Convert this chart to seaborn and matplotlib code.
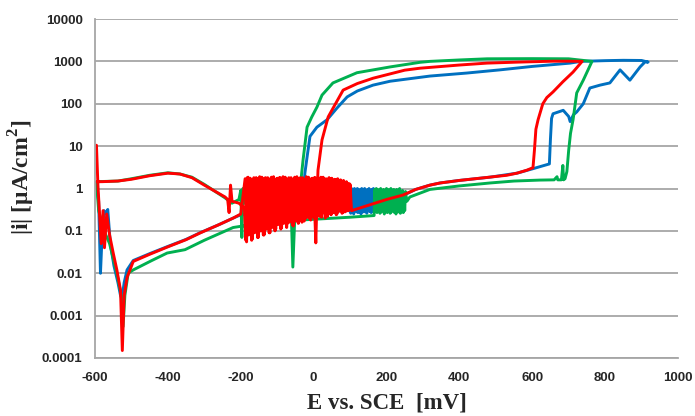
import matplotlib
matplotlib.use("Agg")
import matplotlib.pyplot as plt
from matplotlib.ticker import FixedLocator, FixedFormatter
import pandas as pd
import seaborn as sns

# ---------------- data ----------------
x_ticks = [-600, -400, -200, 0, 200, 400, 600, 800, 1000]
x_tick_labels = ["-600", "-400", "-200", "0", "200", "400", "600", "800", "1000"]
y_ticks = [0.0001, 0.001, 0.01, 0.1, 1, 10, 100, 1000, 10000]
y_tick_labels = ["0.0001", "0.001", "0.01", "0.1", "1", "10", "100", "1000", "10000"]

# ---- Blue sample ----
blue_fwd_E = [-596, -590, -585, -580, -575, -570, -565, -558, -548, -537, -530, -526, -520,
              -512, -495, -450, -400, -350, -312, -260, -221, -200, -150, -50, 50, 98]
blue_fwd_i = [1.4, 0.5, 0.01, 0.1, 0.3, 0.25, 0.32, 0.05, 0.015, 0.006, 0.003, 0.0025, 0.006,
              0.012, 0.02, 0.029, 0.043, 0.063, 0.09, 0.14, 0.2, 0.24, 0.26, 0.28, 0.3, 0.3]
blue_noise_E = [100, 102, 104, 106, 108, 110, 112, 114, 116, 118, 120, 122, 124, 126, 128, 130, 132,
                134, 136, 138, 140, 142, 144, 146, 148, 150, 152, 154, 156, 158, 160, 162, 164, 166, 168]
blue_noise_top = [0.9, 1.0, 0.95, 1.0, 0.85, 1.0, 0.95, 0.9, 1.0, 0.95, 1.0, 0.9, 0.95, 1.0, 0.85,
                  0.95, 1.0, 0.9]
blue_noise_bottom = [0.26, 0.3, 0.25, 0.32, 0.28, 0.27, 0.3, 0.25, 0.33, 0.28, 0.3, 0.26, 0.31, 0.29,
                     0.27, 0.32, 0.35]
blue_pass_E = [172, 200, 245, 280, 319, 347, 400, 484, 558, 600, 647, 650, 653, 657, 685, 700, 704,
               713, 722, 740, 758, 786, 813, 841, 868, 896, 910, 918]
blue_pass_i = [0.4, 0.52, 0.68, 0.95, 1.2, 1.35, 1.55, 1.85, 2.3, 2.9, 3.8, 15, 45, 58, 70, 50, 38,
               55, 64, 100, 235, 275, 310, 630, 360, 740, 980, 960]
blue_rev_E = [900, 850, 800, 733, 704, 600, 511, 420, 319, 210, 163, 120, 92, 64, 37, 9, -10, -18,
              -24, -28, -60, -150]
blue_rev_i = [1050, 1060, 1040, 1000, 910, 760, 630, 530, 450, 340, 275, 200, 145, 79, 42, 28, 17,
              5.5, 2.3, 0.8, 0.6, 0.5]

# ---- Green sample ----
green_fwd_E = [-596, -590, -575, -560, -540, -528, -523, -518, -509, -495, -444, -402, -353,
               -300, -221, -150, -37, 100, 166]
green_fwd_i = [1.45, 0.3, 0.1, 0.05, 0.01, 0.003, 0.00055, 0.003, 0.01, 0.012, 0.02, 0.03, 0.036,
               0.06, 0.12, 0.15, 0.18, 0.21, 0.23]
green_noise_E = [168, 170, 172, 174, 176, 178, 180, 182, 184, 186, 188, 190, 192, 194, 196, 198, 200,
                 202, 204, 206, 208, 210, 212, 214, 216, 218, 220, 222, 224, 226, 228, 230, 232, 234,
                 236, 238, 240, 242, 244, 246, 248, 250, 252]
green_noise_top = [0.95, 1.0, 0.9, 0.95, 1.0, 0.85, 0.95, 0.9, 1.0, 0.95, 0.85, 1.0, 0.9, 0.95, 0.8,
                   0.95, 0.9, 1.0, 0.85, 0.9, 0.8, 0.85]
green_noise_bottom = [0.3, 0.27, 0.3, 0.26, 0.28, 0.3, 0.25, 0.29, 0.27, 0.3, 0.26, 0.28, 0.3, 0.27,
                      0.25, 0.3, 0.28, 0.26, 0.3, 0.27, 0.3]
green_pass_E = [256, 264, 319, 400, 484, 550, 621, 660, 668, 670, 680, 684, 686, 690, 695, 700, 705,
                712, 718, 722, 740, 764]
green_pass_i = [0.5, 0.63, 0.95, 1.15, 1.35, 1.5, 1.58, 1.6, 1.9, 1.6, 1.6, 3.5, 1.6, 1.7, 2.5, 8, 20,
                42, 100, 180, 360, 1000]
green_rev_E = [700, 600, 476, 400, 319, 292, 210, 119, 53, 23, 9, -5, -18, -29, -35, -42, -50, -57,
               -62, -120, -190, -194, -197, -200, -205, -224, -243, -300, -334, -367, -400, -450,
               -500, -537, -594]
green_rev_i = [1150, 1160, 1150, 1080, 1000, 950, 740, 540, 310, 160, 83, 49, 28, 4.7, 1.5, 0.8, 0.5,
               0.014, 0.4, 0.5, 0.45, 1.0, 0.07, 0.9, 0.55, 0.45, 0.6, 1.25, 1.85, 2.2, 2.35, 2.05,
               1.7, 1.5, 1.45]

# ---- Red sample ----
red_fwd_E = [-596, -592, -588, -583, -578, -574, -568, -560, -550, -540, -530, -525, -520, -512,
             -495, -450, -400, -350, -312, -260, -221, -200]
red_fwd_i = [10.5, 1.2, 0.3, 0.05, 0.3, 0.04, 0.25, 0.08, 0.03, 0.012, 0.004, 0.00015, 0.003, 0.008,
             0.019, 0.028, 0.042, 0.062, 0.089, 0.14, 0.2, 0.25]
red_noise_E = [-188, -184, -180, -176, -172, -168, -164, -160, -156, -152, -148, -144, -140, -136,
               -132, -128, -124, -120, -116, -112, -108, -104, -100, -96, -92, -88, -84, -80, -76,
               -72, -68, -64, -60, -56, -52, -48, -44, -40, -36, -32, -28, -24, -20, -16, -12, -8,
               -4, 0, 4, 8, 12, 16, 20, 24, 28, 32, 36, 40, 44, 48, 52, 56, 60, 64, 68, 72, 76, 80,
               84, 88, 92, 96, 100]
red_noise_top = [1.7, 1.85, 1.6, 1.8, 1.75, 1.9, 1.65, 1.8, 1.7, 1.85, 1.6, 1.75, 1.8, 1.9, 1.7, 1.8,
                 1.65, 1.85, 1.75, 1.8, 1.6, 1.9, 1.7, 1.75, 1.8, 1.65, 1.85, 1.7, 1.6, 1.75, 1.5,
                 1.6, 1.4, 1.5, 1.3, 1.35, 1.25]
red_noise_bottom = [0.055, 0.09, 0.065, 0.12, 0.07, 0.1, 0.08, 0.13, 0.09, 0.14, 0.11, 0.16, 0.12,
                    0.18, 0.15, 0.2, 0.13, 0.17, 0.22, 0.16, 0.19, 0.24, 0.18, 0.21, 0.25, 0.22, 0.27,
                    0.2, 0.26, 0.24, 0.28, 0.25, 0.3, 0.27, 0.29, 0.3]
# second pass through the noisy band (reverse scan), offset between the first-pass points
red_noise2_E = [98, 94, 90, 86, 82, 78, 74, 70, 66, 62, 58, 54, 50, 46, 42, 38, 34, 30, 26, 22, 18,
                14, 10, 6, 2, -2, -6, -10, -14, -18, -22, -26, -30, -34, -38, -42, -46, -50, -54,
                -58, -62, -66, -70, -74, -78, -82, -86, -90, -94, -98, -102, -106, -110, -114, -118,
                -122, -126, -130, -134, -138, -142, -146, -150, -154, -158, -162, -166, -170, -174,
                -178, -182, -186]
red_noise2_top = [1.3, 1.45, 1.55, 1.6, 1.7, 1.65, 1.75, 1.8, 1.7, 1.85, 1.6, 1.75, 1.8, 1.7, 1.85,
                  1.65, 1.8, 1.75, 1.9, 1.7, 1.8, 1.6, 1.85, 1.75, 1.8, 1.7, 1.9, 1.65, 1.8, 1.75,
                  1.85, 1.7, 1.8, 1.6, 1.75, 1.8]
red_noise2_bottom = [0.3, 0.28, 0.26, 0.29, 0.24, 0.27, 0.25, 0.22, 0.26, 0.21, 0.24, 0.2, 0.23, 0.19,
                     0.21, 0.17, 0.2, 0.15, 0.18, 0.14, 0.16, 0.12, 0.15, 0.11, 0.14, 0.1, 0.12, 0.09,
                     0.11, 0.08, 0.1, 0.07, 0.09, 0.06, 0.08, 0.06]
red_pass_E = [104, 150, 200, 245, 280, 319, 347, 400, 484, 530, 558, 585, 602, 606, 610, 616, 629,
              640, 657, 684, 712, 737]
red_pass_i = [0.3, 0.4, 0.55, 0.7, 0.95, 1.2, 1.35, 1.55, 1.85, 2.05, 2.3, 2.7, 3.1, 8, 25, 42, 100,
              140, 190, 330, 560, 1000]
red_rev_E = [700, 657, 560, 476, 400, 292, 250, 163, 120, 81, 59, 40, 23, 12, 9, 6, 2]
red_rev_i = [1010, 1010, 960, 910, 820, 690, 620, 400, 300, 210, 96, 49, 14, 2.7, 0.5, 0.052, 0.5]
red_end_E = [-190, -205, -224, -228, -232, -236, -243, -300, -334, -367, -400, -450, -500, -537,
             -580, -594]
red_end_i = [0.35, 0.45, 0.5, 1.2, 0.27, 0.55, 0.63, 1.2, 1.8, 2.2, 2.3, 2.0, 1.65, 1.5, 1.45, 1.45]


def zigzag(top, bottom):
    out = []
    for k in range(len(top)):
        out.append(top[k])
        if k < len(bottom):
            out.append(bottom[k])
    return out


def build(name, parts):
    E, I = [], []
    for e, i in parts:
        assert len(e) == len(i), (name, len(e), len(i))
        E += list(e)
        I += list(i)
    return pd.DataFrame({"E": E, "i": I, "series": name})


df = pd.concat([
    build("blue", [(blue_fwd_E, blue_fwd_i),
                   (blue_noise_E, zigzag(blue_noise_top, blue_noise_bottom)),
                   (blue_pass_E, blue_pass_i), (blue_rev_E, blue_rev_i)]),
    build("green", [(green_fwd_E, green_fwd_i),
                    (green_noise_E, zigzag(green_noise_top, green_noise_bottom)),
                    (green_pass_E, green_pass_i), (green_rev_E, green_rev_i)]),
    build("red", [(red_fwd_E, red_fwd_i),
                  (red_noise_E, zigzag(red_noise_top, red_noise_bottom)),
                  (red_pass_E, red_pass_i), (red_rev_E, red_rev_i),
                  (red_noise2_E, zigzag(red_noise2_top, red_noise2_bottom)),
                  (red_end_E, red_end_i)]),
], ignore_index=True)

# ---------------- drawing ----------------
sns.set_style("white")
plt.rcParams["mathtext.fontset"] = "custom"
plt.rcParams["mathtext.rm"] = "Liberation Serif:bold"
plt.rcParams["mathtext.bf"] = "Liberation Serif:bold"

fig = plt.figure(figsize=(6.95, 4.16), dpi=100)
ax = fig.add_axes([95 / 695, 1 - 358 / 416, 583 / 695, 339 / 416])

palette = {"blue": "#0070C0", "green": "#00B050", "red": "#FF0000"}
sns.lineplot(data=df, x="E", y="i", hue="series", hue_order=["blue", "green", "red"],
             palette=palette, sort=False, estimator=None, units="series", legend=False,
             linewidth=2.1, ax=ax)

ax.set_yscale("log")
ax.set_xlim(-600, 1000)
ax.set_ylim(0.0001, 10000)
ax.yaxis.set_major_locator(FixedLocator(y_ticks))
ax.yaxis.set_major_formatter(FixedFormatter(y_tick_labels))
ax.yaxis.set_minor_locator(FixedLocator([]))
ax.xaxis.set_major_locator(FixedLocator(x_ticks))
ax.xaxis.set_major_formatter(FixedFormatter(x_tick_labels))

ax.grid(axis="y", color="#A6A6A6", linewidth=1.3)
ax.grid(axis="x", visible=False)
ax.set_axisbelow(True)
for s in ["top", "right"]:
    ax.spines[s].set_visible(False)
for s in ["left", "bottom"]:
    ax.spines[s].set_color("#A6A6A6")
    ax.spines[s].set_linewidth(1.3)

ax.tick_params(axis="both", length=0, labelsize=9.5, labelcolor="#262626")
ax.tick_params(axis="y", pad=9)
ax.tick_params(axis="x", pad=10)
for lab in ax.get_xticklabels() + ax.get_yticklabels():
    lab.set_fontfamily("Liberation Sans")
    lab.set_fontweight("bold")

ax.set_xlabel("E vs. SCE  [mV]", fontfamily="Liberation Serif", fontweight="bold", fontsize=16.5)
ax.set_ylabel("|i| [μA/cm$^{2}$]", fontfamily="Liberation Serif", fontweight="bold", fontsize=17)
ax.xaxis.set_label_coords(0.5, -0.103)
ax.yaxis.set_label_coords(-0.10, 0.532)

fig.savefig("out.png", dpi=100, facecolor="white")
